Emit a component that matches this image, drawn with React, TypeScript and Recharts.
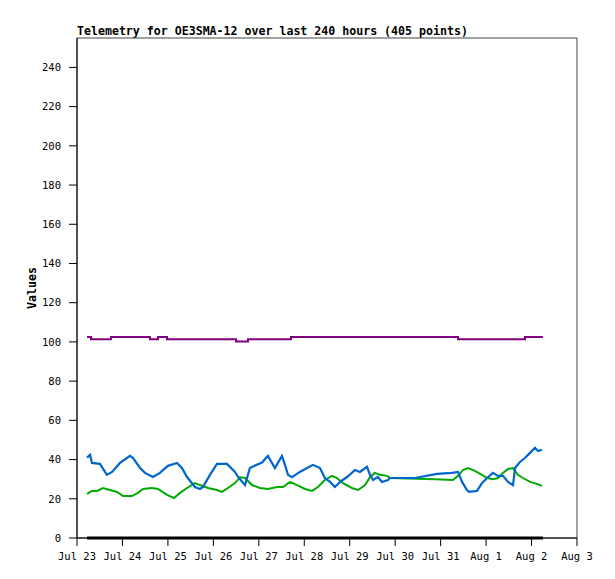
import React from "react";
import { LineChart, Line, XAxis, YAxis, ReferenceArea } from "recharts";

// hours since Jul 23 00:00
const dayTicks = [0, 24, 48, 72, 96, 120, 144, 168, 192, 216, 240, 264];
const dayLabels = ["Jul 23", "Jul 24", "Jul 25", "Jul 26", "Jul 27", "Jul 28", "Jul 29", "Jul 30", "Jul 31", "Aug 1", "Aug 2", "Aug 3"];
const valueTicks = [0, 20, 40, 60, 80, 100, 120, 140, 160, 180, 200, 220, 240];

const purpleHours = [5.3, 7.4, 18, 38.5, 42.8, 47.5, 84, 90.3, 113, 201.2, 236.5, 246];
const purpleValues = [102.5, 101.3, 102.5, 101.3, 102.5, 101.3, 100.2, 101.3, 102.5, 101.3, 102.5, 102.5];

const blueHours = [
  5.3, 6.9, 7.9, 12.1, 15.8, 18.5, 22.7, 28, 29.6, 33.3, 35.9, 40.1, 43.8, 48, 52.8, 55.4, 58.1, 62.3, 64.9, 66.5,
  70.2, 73.9, 79.2, 83.4, 85.5, 88.7, 91.3, 94, 97.7, 100.8, 104.5, 108.2, 109.8, 111.4, 113.5, 117.7, 121.4, 124.6,
  128.3, 130.9, 133.6, 136.2, 138.9, 142.6, 146.8, 149.4, 153.1, 154.7, 156.3, 158.9, 161, 164.2, 165.3, 178.5, 190.1,
  198, 201.2, 203.3, 205.9, 207, 211.2, 213.8, 216.5, 219.6, 222.3, 224.9, 227.6, 230.2, 231.3, 233.9, 236.5, 239.2,
  241.8, 243.4, 245.5,
];
const blueValues = [
  41, 42.4, 38.3, 37.8, 32.2, 33.7, 38.3, 41.9, 40.8, 35.7, 33.2, 31.1, 33.2, 36.8, 38.3, 35.7, 31.1, 26, 25, 26,
  32.2, 37.8, 37.8, 33.7, 30.6, 27, 35.7, 37, 38.5, 41.9, 35.7, 41.9, 37.3, 32.2, 31, 33.7, 35.7, 37.3,
  35.7, 30.6, 28.6, 26, 28.6, 31.1, 34.7, 33.7, 36.3, 32.2, 29.6, 31.1, 28.6, 29.6, 30.6, 30.6, 32.7,
  33.2, 33.7, 28.6, 24.5, 23.5, 24, 28, 30.6, 33.2, 31.7, 31.7, 28.6, 27, 35.7, 38.8, 40.8, 43.4,
  46, 44.4, 45,
];

const greenHours = [
  5.3, 7.9, 10.6, 13.7, 17.4, 21.1, 24.3, 29, 32.2, 34.8, 39.6, 42.8, 47.5, 51.2, 54.4, 58.1, 62.3, 64.9, 69.2,
  73.9, 76.6, 79.7, 83.4, 86.1, 88.7, 92.4, 96.6, 100.8, 105.6, 108.8, 112.5, 116.2, 120.4, 124.1, 127.2, 130.9,
  134.6, 137.3, 140.4, 145.2, 148.4, 152.1, 154.7, 157.3, 160, 163.7, 165.3, 189, 198.5, 201.2, 203.8, 206.4,
  210.1, 213.8, 216.5, 219.6, 222.3, 224.9, 227.6, 230.2, 232.8, 235.5, 239.2, 242.9, 245.5,
];
const greenValues = [
  22.5, 24, 24, 25.5, 24.5, 23.5, 21.4, 21.4, 23, 25, 25.5, 25, 22, 20.4, 23, 25.5, 28, 27, 25.5,
  24.5, 23.5, 25.5, 28, 31, 30.6, 27, 25.5, 25, 26, 26, 28.6, 27, 25, 24, 26, 29.6,
  31.7, 30.6, 28, 25.5, 24.5, 27, 31, 33.2, 32.2, 31.7, 30.6, 30, 29.6, 31.7, 34.7, 35.7,
  34.2, 32.2, 30.6, 30, 30.6, 33.2, 35.2, 35.7, 32.2, 30.6, 28.6, 27.6, 26.6,
];

const blackHours = [5.3, 246];
const blackValues = [0, 0];

const toPoints = (hours: number[], values: number[]) => hours.map((t, i) => ({ t, v: values[i] }));

const mono = "'DejaVu Sans Mono', monospace";

const ValuesLabel = (props: any) => {
  const { x, y, height } = props.viewBox;
  const cx = x + 32;
  const cy = y + height / 2;
  return (
    <text
      x={cx}
      y={cy}
      transform={`rotate(-90, ${cx}, ${cy})`}
      textAnchor="middle"
      dominantBaseline="central"
      fontFamily={mono}
      fontWeight="bold"
      fontSize={11.6}
      fill="#000"
    >
      Values
    </text>
  );
};

export default function App() {
  return (
    <div style={{ position: "absolute", left: 0, top: 0, width: 615, height: 579, background: "#fff" }}>
      <div
        style={{
          position: "absolute",
          left: 77,
          top: 25,
          fontFamily: mono,
          fontWeight: "bold",
          fontSize: 11.6,
          lineHeight: "12px",
          whiteSpace: "nowrap",
        }}
      >
        Telemetry for OE3SMA-12 over last 240 hours (405 points)
      </div>
      <LineChart width={615} height={579} margin={{ top: 38, right: 38, bottom: 0, left: 0 }}>
        <XAxis
          dataKey="t"
          type="number"
          domain={[0, 264]}
          ticks={dayTicks}
          tickFormatter={(t: number) => dayLabels[dayTicks.indexOf(t)]}
          height={41}
          tickSize={8}
          tickMargin={7}
          interval={0}
          allowDataOverflow
          stroke="#000"
          tick={{ fill: "#000", fontFamily: mono, fontSize: 10.5 }}
        />
        <YAxis
          type="number"
          domain={[0, 255]}
          ticks={valueTicks}
          width={77}
          tickSize={8}
          tickMargin={8}
          interval={0}
          stroke="#000"
          tick={{ fill: "#000", fontFamily: mono, fontSize: 10.5 }}
          label={<ValuesLabel />}
        />
        <ReferenceArea x1={0} x2={264} y1={0} y2={255} fill="none" stroke="#444" strokeWidth={1} ifOverflow="visible" />
        <Line
          data={toPoints(blackHours, blackValues)}
          dataKey="v"
          type="linear"
          stroke="#000"
          strokeWidth={3}
          dot={false}
          isAnimationActive={false}
        />
        <Line
          data={toPoints(purpleHours, purpleValues)}
          dataKey="v"
          type="stepAfter"
          stroke="#800080"
          strokeWidth={2}
          dot={false}
          isAnimationActive={false}
        />
        <Line
          data={toPoints(greenHours, greenValues)}
          dataKey="v"
          type="linear"
          stroke="#00aa00"
          strokeWidth={2}
          dot={false}
          isAnimationActive={false}
        />
        <Line
          data={toPoints(blueHours, blueValues)}
          dataKey="v"
          type="linear"
          stroke="#0066cc"
          strokeWidth={2.2}
          dot={false}
          isAnimationActive={false}
        />
      </LineChart>
    </div>
  );
}
